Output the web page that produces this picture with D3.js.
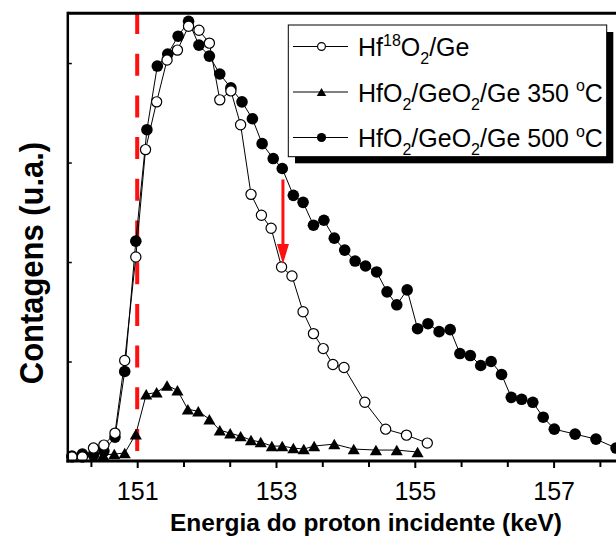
<!DOCTYPE html>
<html>
<head>
<meta charset="utf-8">
<script src="https://cdn.jsdelivr.net/npm/d3@7"></script>
<style>
  body { margin: 0; background: #fff; }
  svg { display: block; }
  text { font-family: "Liberation Sans", Arial, Helvetica, sans-serif; fill: #000; }
</style>
</head>
<body>
<svg id="chart" width="616" height="538"></svg>
<script>
// Proton energy (keV) and yield (arbitrary units) for each sample
const hf18Energy = [150.06,150.21,150.37,150.52,150.68,150.82,150.98,151.12,151.28,151.43,151.58,151.74,151.89,152.04,152.19,152.35,152.49,152.64,152.79,152.93,153.08,153.23,153.39,153.54,153.68,153.82,153.98,154.28,154.58,154.88,155.18];
const hf18Counts = [0.04,0.04,0.13,0.16,0.28,1.01,2.05,3.13,3.61,4.03,4.13,4.37,4.33,4.20,3.63,3.72,3.38,2.68,2.47,2.34,1.95,1.86,1.50,1.28,1.13,0.97,0.94,0.59,0.32,0.26,0.18];

const t350Energy = [150.51,150.67,150.82,150.98,151.13,151.28,151.43,151.58,151.73,151.88,152.04,152.19,152.34,152.49,152.64,152.78,152.94,153.09,153.25,153.40,153.55,153.84,154.12,154.44,154.74,155.04];
const t350Counts = [0.06,0.07,0.08,0.27,0.67,0.69,0.76,0.71,0.52,0.50,0.42,0.31,0.28,0.25,0.21,0.19,0.15,0.15,0.13,0.12,0.15,0.17,0.12,0.11,0.11,0.09];

const t500Energy = [150.06,150.21,150.37,150.52,150.68,150.82,150.98,151.14,151.29,151.44,151.59,151.74,151.89,152.04,152.19,152.35,152.51,152.66,152.80,152.96,153.09,153.25,153.39,153.54,153.69,153.84,153.99,154.14,154.29,154.45,154.60,154.74,154.89,155.04,155.19,155.35,155.51,155.65,155.80,155.95,156.10,156.25,156.39,156.54,156.70,156.85,157.01,157.31,157.61,157.90];
const t500Counts = [0.05,0.07,0.06,0.10,0.24,0.90,2.21,3.33,3.97,4.09,4.27,4.42,4.18,4.07,3.89,3.75,3.61,3.44,3.19,3.04,2.94,2.67,2.60,2.37,2.42,2.24,2.12,2.01,1.96,1.90,1.70,1.57,1.72,1.33,1.38,1.30,1.32,1.08,1.06,0.96,1.00,0.87,0.64,0.62,0.59,0.44,0.32,0.27,0.22,0.13];

// Axis ticks
const xMajorTicks = [151, 153, 155, 157];
const xMinorTicks = [150.333, 151.667, 152.333, 153.667, 154.333, 155.667, 156.333, 157.667];
const yTicks = [1, 2, 3, 4];

// Surface energy marker and the arrow
const surfaceEnergy = 151;
const arrowEnergy = 153.1;
const arrowFrom = 2.83;
const arrowTo = 1.98;

const xTitle = "Energia do proton incidente (keV)";
const yTitle = "Contagens (u.a.)";

const svg = d3.select("#chart");
const plotLeft = 67.8, plotTop = 13.3, plotBottom = 461;
const x = d3.scaleLinear().domain([150, 158]).range([plotLeft, plotLeft + 8 * 69.4]);
const y = d3.scaleLinear().domain([0, 4.5]).range([plotBottom, plotTop]);

const toPoints = (xs, ys) => xs.map((e, i) => [e, ys[i]]);
const series = [
  { key: "350", pts: toPoints(t350Energy, t350Counts), marker: "triangle" },
  { key: "500", pts: toPoints(t500Energy, t500Counts), marker: "filled" },
  { key: "hf18", pts: toPoints(hf18Energy, hf18Counts), marker: "open" }
];

// Triangle centred on its bounding box
function triPath(s) {
  const h = s * Math.sqrt(3) / 2;
  return `M0,${-h / 2}L${s / 2},${h / 2}L${-s / 2},${h / 2}Z`;
}

function drawMarker(g, type, r) {
  if (type === "triangle") {
    g.append("path").attr("d", triPath(r * 2.2)).attr("fill", "#000");
  } else if (type === "filled") {
    g.append("circle").attr("r", r + 0.3).attr("fill", "#000");
  } else {
    g.append("circle").attr("r", r - 0.4).attr("fill", "#fff").attr("stroke", "#000").attr("stroke-width", 1.2);
  }
}

const line = d3.line().x(d => x(d[0])).y(d => y(d[1]));

// Red dashed line at the surface energy
svg.append("line")
  .attr("x1", x(surfaceEnergy)).attr("x2", x(surfaceEnergy))
  .attr("y1", 12).attr("y2", 456)
  .attr("stroke", "#ff1010").attr("stroke-width", 4)
  .attr("stroke-dasharray", "22,19.7");

for (const s of series) {
  const g = svg.append("g");
  g.append("path").attr("d", line(s.pts)).attr("fill", "none").attr("stroke", "#000").attr("stroke-width", 1);
  g.selectAll("g.m").data(s.pts).enter().append("g")
    .attr("transform", d => `translate(${x(d[0])},${y(d[1])})`)
    .each(function () { drawMarker(d3.select(this), s.marker, 5.5); });
}

// Arrow
const ax = x(arrowEnergy);
svg.append("line").attr("x1", ax).attr("x2", ax)
  .attr("y1", y(arrowFrom)).attr("y2", y(arrowTo) - 18)
  .attr("stroke", "#ff1010").attr("stroke-width", 3);
svg.append("path")
  .attr("d", `M${ax - 6},${y(arrowTo) - 20}L${ax + 6},${y(arrowTo) - 20}L${ax},${y(arrowTo)}Z`)
  .attr("fill", "#ff1010");

// Axes
const xAxis = svg.append("g").attr("transform", `translate(0,${plotBottom})`)
  .call(d3.axisBottom(x).tickValues(xMajorTicks).tickFormat(d3.format("d")).tickSizeInner(7).tickSizeOuter(0));
xAxis.select(".domain").remove();
xAxis.selectAll(".tick line").attr("stroke", "#000").attr("stroke-width", 2);
xAxis.selectAll(".tick text").attr("y", 21).attr("dy", "0.71em").style("font-size", "25px");

const xMinor = svg.append("g").attr("transform", `translate(0,${plotBottom})`)
  .call(d3.axisBottom(x).tickValues(xMinorTicks).tickFormat("").tickSizeInner(6).tickSizeOuter(0));
xMinor.select(".domain").remove();
xMinor.selectAll(".tick line").attr("stroke", "#000").attr("stroke-width", 2);

const yAxis = svg.append("g").attr("transform", `translate(${plotLeft},0)`)
  .call(d3.axisLeft(y).tickValues(yTicks).tickFormat("").tickSizeInner(-4).tickSizeOuter(0));
yAxis.select(".domain").remove();
yAxis.selectAll(".tick line").attr("stroke", "#000").attr("stroke-width", 1.5);

// Frame
svg.append("line").attr("x1", plotLeft).attr("x2", 640).attr("y1", plotTop).attr("y2", plotTop)
  .attr("stroke", "#000").attr("stroke-width", 3);
svg.append("line").attr("x1", plotLeft - 1.5).attr("x2", 640).attr("y1", plotBottom).attr("y2", plotBottom)
  .attr("stroke", "#000").attr("stroke-width", 3);
svg.append("line").attr("x1", plotLeft).attr("x2", plotLeft).attr("y1", plotTop - 1.5).attr("y2", plotBottom + 1.5)
  .attr("stroke", "#000").attr("stroke-width", 2.5);

// Axis titles
svg.append("text").attr("x", 366).attr("y", 531).attr("text-anchor", "middle")
  .style("font-size", "24.5px").style("font-weight", "bold").text(xTitle);
svg.append("text").attr("transform", "translate(43,263) rotate(-90) scale(0.91,1)").attr("text-anchor", "middle")
  .style("font-size", "34px").style("font-weight", "bold").text(yTitle);

// Legend
const lg = svg.append("g");
lg.append("rect").attr("x", 295).attr("y", 32).attr("width", 318.3).attr("height", 131.3).attr("fill", "#000");
lg.append("rect").attr("x", 288.3).attr("y", 25).attr("width", 318.4).attr("height", 131.7)
  .attr("fill", "#fff").attr("stroke", "#000").attr("stroke-width", 1);

const legendRows = [
  { marker: "open", cy: 46.5, parts: [["Hf", 0], ["18", -1], ["O", 0], ["2", 1], ["/Ge", 0]] },
  { marker: "triangle", cy: 92, parts: [["HfO", 0], ["2", 1], ["/GeO", 0], ["2", 1], ["/Ge 350 ", 0], ["o", -1], ["C", 0]] },
  { marker: "filled", cy: 137.5, parts: [["HfO", 0], ["2", 1], ["/GeO", 0], ["2", 1], ["/Ge 500 ", 0], ["o", -1], ["C", 0]] }
];
for (const row of legendRows) {
  lg.append("line").attr("x1", 293).attr("x2", 348).attr("y1", row.cy).attr("y2", row.cy)
    .attr("stroke", "#000").attr("stroke-width", 1);
  const m = lg.append("g").attr("transform", `translate(321.5,${row.cy})`);
  drawMarker(m, row.marker, 4.3);
  const t = lg.append("text").attr("x", 358).attr("y", row.cy + 9.5).style("font-size", "25px");
  let shift = 0;
  for (const [str, pos] of row.parts) {
    const target = pos === 1 ? 8 : pos === -1 ? -10.5 : 0;
    t.append("tspan").attr("dy", target - shift)
      .style("font-size", pos === 0 ? "25px" : "16px").text(str);
    shift = target;
  }
}
</script>
</body>
</html>
